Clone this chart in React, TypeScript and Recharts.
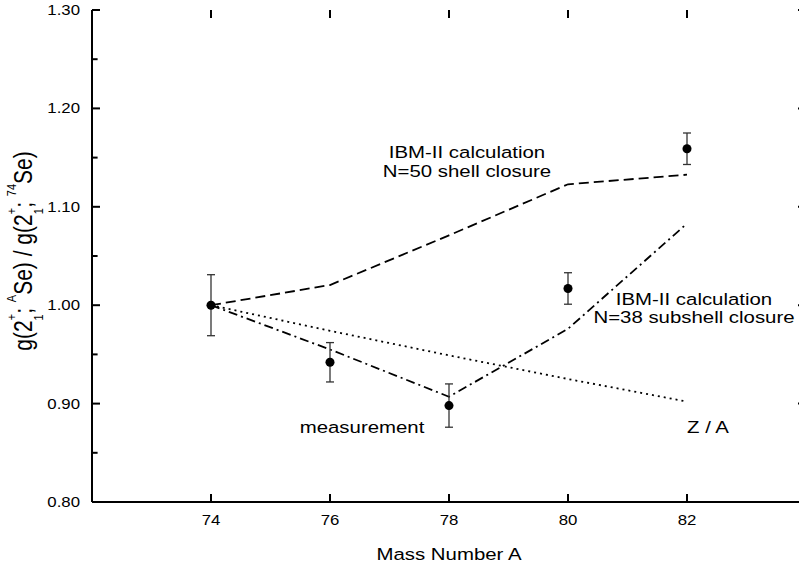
import React from 'react';
import {
    ComposedChart,
    Line,
    Scatter,
    ErrorBar,
    XAxis,
    YAxis,
    ReferenceLine,
} from 'recharts';

// Mass number A for each point
const massNumbers = [74, 76, 78, 80, 82];
// IBM-II, N=50 shell closure (dashed)
const ibmN50 = [1.0, 1.0205, 1.071, 1.1229, 1.1326];
// IBM-II, N=38 subshell closure (dash-dot)
const ibmN38 = [1.0, 0.955, 0.907, 0.976, 1.083];
// Z / A ratio (dotted)
const zOverA = [1.0, 0.974, 0.949, 0.925, 0.902];
// measurement with errors
const measured = [1.0, 0.942, 0.898, 1.017, 1.159];
const measuredErr = [0.031, 0.02, 0.022, 0.016, 0.016];

const xTicks = [74, 76, 78, 80, 82];
const yTicks = [0.8, 0.85, 0.9, 0.95, 1.0, 1.05, 1.1, 1.15, 1.2, 1.25, 1.3];

const X_DOMAIN = [72, 84];
const Y_DOMAIN = [0.8, 1.3];
// plot box is 714 x 492 px; tick marks are ~8px long, pointing inwards
const X_TICK = ((X_DOMAIN[1] - X_DOMAIN[0]) / 714) * 8;
const Y_TICK = ((Y_DOMAIN[1] - Y_DOMAIN[0]) / 492) * 8;

const FONT = '"Liberation Sans", Arial, Helvetica, sans-serif';
const AXIS_LINE = { stroke: '#000', strokeWidth: 2 };

const lineRows = massNumbers.map((A, i) => ({
    A,
    n50: ibmN50[i],
    n38: ibmN38[i],
    za: zOverA[i],
}));

const pointRows = massNumbers.map((A, i) => ({
    A,
    g: measured[i],
    err: measuredErr[i],
}));

// the original is stretched sideways a bit, so text gets scaled too
const Txt = ({ x, y, size = 17, anchor = 'middle', children }: any) => (
    <text
        transform={`translate(${x},${y}) scale(1.2,1)`}
        textAnchor={anchor}
        fontSize={size}
        fontFamily={FONT}
        fill="#000"
    >
        {children}
    </text>
);

const isMajor = (v: number) => Math.round(v * 100) % 10 === 0;

const BottomTick = ({ x, y, payload }: any) => (
    <Txt x={Number(x)} y={Number(y) + 23} size={14}>{payload.value}</Txt>
);

const LeftTick = ({ y, payload }: any) =>
    isMajor(payload.value) ? (
        <Txt x={80} y={Number(y) + 5} size={14} anchor="end">
            {payload.value.toFixed(2)}
        </Txt>
    ) : (
        <g />
    );

const tickSeg = (seg: any, key: string) => (
    <ReferenceLine
        key={key}
        segment={seg}
        stroke="#000"
        strokeWidth={2}
        ifOverflow="visible"
    />
);

export default function App() {
    const tickMarks: any[] = [];
    xTicks.forEach((t) => {
        tickMarks.push(tickSeg([{ x: t, y: Y_DOMAIN[0] }, { x: t, y: Y_DOMAIN[0] + Y_TICK }], `b${t}`));
        tickMarks.push(tickSeg([{ x: t, y: Y_DOMAIN[1] }, { x: t, y: Y_DOMAIN[1] - Y_TICK }], `t${t}`));
    });
    yTicks.forEach((t) => {
        const len = isMajor(t) ? X_TICK : X_TICK * 0.7;
        tickMarks.push(tickSeg([{ x: X_DOMAIN[0], y: t }, { x: X_DOMAIN[0] + len, y: t }], `l${t}`));
        tickMarks.push(tickSeg([{ x: X_DOMAIN[1], y: t }, { x: X_DOMAIN[1] - len, y: t }], `r${t}`));
    });

    return (
        <div
            style={{
                position: 'absolute',
                left: 0,
                top: 0,
                width: 799,
                height: 567,
                overflow: 'hidden',
                background: '#fff',
            }}
        >
            <ComposedChart
                width={820}
                height={567}
                data={lineRows}
                margin={{ top: 10, right: 14, bottom: 25, left: 0 }}
            >
                <XAxis
                    dataKey="A"
                    type="number"
                    domain={X_DOMAIN}
                    ticks={xTicks}
                    height={40}
                    tickSize={0}
                    tickMargin={0}
                    tickLine={false}
                    tick={<BottomTick />}
                    axisLine={AXIS_LINE}
                />
                <XAxis
                    xAxisId="top"
                    orientation="top"
                    dataKey="A"
                    type="number"
                    domain={X_DOMAIN}
                    ticks={xTicks}
                    height={0}
                    tickLine={false}
                    tick={false}
                    axisLine={AXIS_LINE}
                />
                <YAxis
                    type="number"
                    domain={Y_DOMAIN}
                    ticks={yTicks}
                    width={92}
                    tickSize={0}
                    tickMargin={0}
                    tickLine={false}
                    tick={<LeftTick />}
                    axisLine={AXIS_LINE}
                />
                <YAxis
                    yAxisId="right"
                    orientation="right"
                    type="number"
                    domain={Y_DOMAIN}
                    ticks={yTicks}
                    width={0}
                    tickLine={false}
                    tick={false}
                    axisLine={AXIS_LINE}
                />

                {tickMarks}

                <Line
                    dataKey="n50"
                    type="linear"
                    stroke="#000"
                    strokeWidth={1.8}
                    strokeDasharray="10 5"
                    dot={false}
                    isAnimationActive={false}
                />
                <Line
                    dataKey="n38"
                    type="linear"
                    stroke="#000"
                    strokeWidth={1.8}
                    strokeDasharray="9 4 2 4"
                    dot={false}
                    isAnimationActive={false}
                />
                <Line
                    dataKey="za"
                    type="linear"
                    stroke="#000"
                    strokeWidth={1.8}
                    strokeDasharray="2 4"
                    dot={false}
                    isAnimationActive={false}
                />
                <Scatter
                    data={pointRows}
                    dataKey="g"
                    fill="#000"
                    shape="circle"
                    isAnimationActive={false}
                >
                    <ErrorBar dataKey="err" direction="y" width={4} stroke="#333" strokeWidth={1.3} />
                </Scatter>

                {/* annotations */}
                <Txt x={467} y={158}>IBM-II calculation</Txt>
                <Txt x={467} y={177}>N=50 shell closure</Txt>
                <Txt x={694} y={305}>IBM-II calculation</Txt>
                <Txt x={694} y={323}>N=38 subshell closure</Txt>
                <Txt x={362} y={433}>measurement</Txt>
                <Txt x={708} y={433}>Z / A</Txt>

                {/* axis titles */}
                <Txt x={449} y={560}>Mass Number A</Txt>
                <text
                    transform="translate(32,251) rotate(-90) scale(1,1.2)"
                    textAnchor="middle"
                    fontSize={21}
                    fontFamily={FONT}
                    fill="#000"
                >
                    g(2
                    <tspan fontSize={11} dy={9}>1</tspan>
                    <tspan fontSize={11} dx={-6} dy={-22}>+</tspan>
                    <tspan dy={13}>; </tspan>
                    <tspan fontSize={11} dy={-13}>A</tspan>
                    <tspan dy={13}>Se) / g(2</tspan>
                    <tspan fontSize={11} dy={9}>1</tspan>
                    <tspan fontSize={11} dx={-6} dy={-22}>+</tspan>
                    <tspan dy={13}>; </tspan>
                    <tspan fontSize={11} dy={-13}>74</tspan>
                    <tspan dy={13}>Se)</tspan>
                </text>
            </ComposedChart>
        </div>
    );
}
